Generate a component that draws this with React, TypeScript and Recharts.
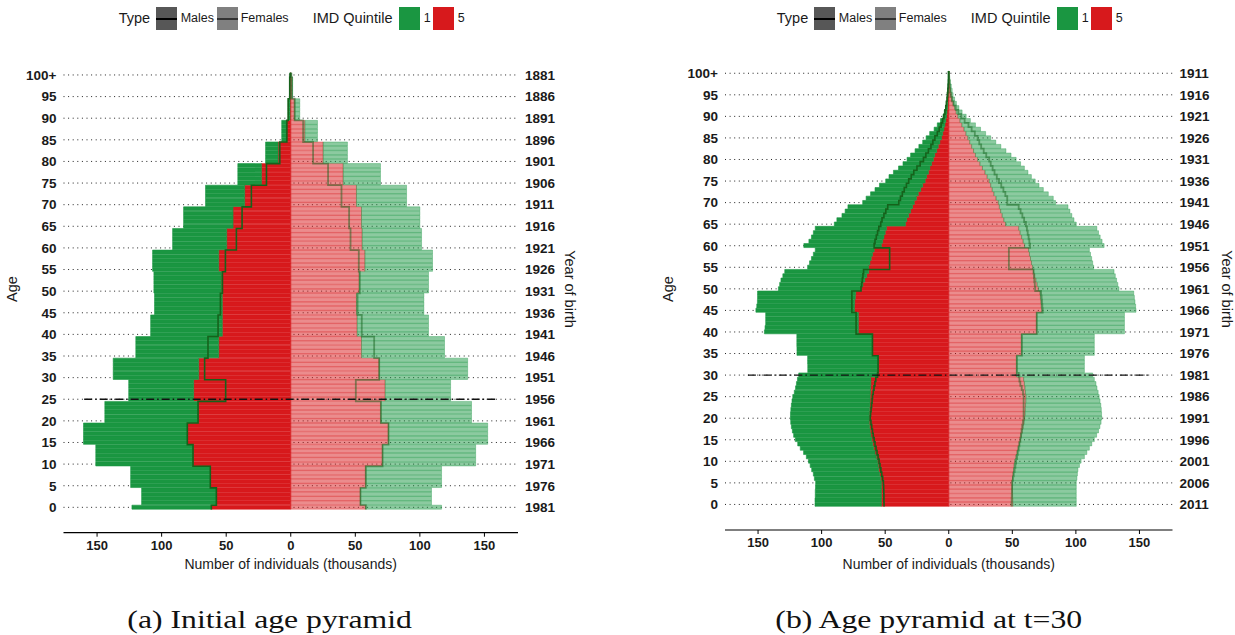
import React from "react";
import {
  ComposedChart,
  Bar,
  Line,
  XAxis,
  YAxis,
  CartesianGrid,
  ReferenceLine,
} from "recharts";

const GREEN = "#1a9641";
const RED = "#d7191c";
const STEP = "#16621b";
const FONT = '"Liberation Sans", Arial, Helvetica, sans-serif';

// one bar per single year of age
const ages = [
  0, 1, 2, 3, 4, 5, 6, 7, 8, 9, 10, 11, 12, 13, 14, 15, 16, 17, 18, 19, 20,
  21, 22, 23, 24, 25, 26, 27, 28, 29, 30, 31, 32, 33, 34, 35, 36, 37, 38, 39,
  40, 41, 42, 43, 44, 45, 46, 47, 48, 49, 50, 51, 52, 53, 54, 55, 56, 57, 58,
  59, 60, 61, 62, 63, 64, 65, 66, 67, 68, 69, 70, 71, 72, 73, 74, 75, 76, 77,
  78, 79, 80, 81, 82, 83, 84, 85, 86, 87, 88, 89, 90, 91, 92, 93, 94, 95, 96,
  97, 98, 99, 100,
];
const ageTicks = [0, 5, 10, 15, 20, 25, 30, 35, 40, 45, 50, 55, 60, 65, 70, 75, 80, 85, 90, 95, 100];
const ageTickLabels = ["0", "5", "10", "15", "20", "25", "30", "35", "40", "45", "50", "55", "60", "65", "70", "75", "80", "85", "90", "95", "100+"];
const birthYearsA = ["1981", "1976", "1971", "1966", "1961", "1956", "1951", "1946", "1941", "1936", "1931", "1926", "1921", "1916", "1911", "1906", "1901", "1896", "1891", "1886", "1881"];
const birthYearsB = ["2011", "2006", "2001", "1996", "1991", "1986", "1981", "1976", "1971", "1966", "1961", "1956", "1951", "1946", "1941", "1936", "1931", "1926", "1921", "1916", "1911"];
const xTicks = [-150, -100, -50, 0, 50, 100, 150];

// (a) initial population, thousands, index = age
const maleQ1A = [
  123, 115.5, 115.5, 115.5, 115.5,
  124, 124, 124, 124, 124,
  151, 151, 151, 151, 151,
  160.5, 160.5, 160.5, 160.5, 160.5,
  144, 144, 144, 144, 144,
  125.5, 125.5, 125.5, 125.5, 125.5,
  137.5, 137.5, 137.5, 137.5, 137.5,
  120, 120, 120, 120, 120,
  108.5, 108.5, 108.5, 108.5, 108.5,
  105.5, 105.5, 105.5, 105.5, 105.5,
  106, 106, 106, 106, 106,
  107, 107, 107, 107, 107,
  91.5, 91.5, 91.5, 91.5, 91.5,
  83, 83, 83, 83, 83,
  66, 66, 66, 66, 66,
  41, 41, 41, 41, 41,
  19.5, 19.5, 19.5, 19.5, 19.5,
  7, 7, 7, 7, 7,
  2, 2, 2, 2, 2,
  0.8, 0.8, 0.8, 0.8, 0.8,
  0.5,
];
const maleQ5A = [
  61.5, 57.6, 57.6, 57.6, 57.6,
  62.3, 62.3, 62.3, 62.3, 62.3,
  75.7, 75.7, 75.7, 75.7, 75.7,
  80, 80, 80, 80, 80,
  71.8, 71.8, 71.8, 71.8, 71.8,
  75.2, 75.2, 75.2, 75.2, 75.2,
  71.3, 71.3, 71.3, 71.3, 71.3,
  55.8, 55.8, 55.8, 55.8, 55.8,
  53, 53, 53, 53, 53,
  53, 53, 53, 53, 53,
  53.7, 53.7, 53.7, 53.7, 53.7,
  55.8, 55.8, 55.8, 55.8, 55.8,
  49.6, 49.6, 49.6, 49.6, 49.6,
  44.7, 44.7, 44.7, 44.7, 44.7,
  35.7, 35.7, 35.7, 35.7, 35.7,
  22.7, 22.7, 22.7, 22.7, 22.7,
  9.8, 9.8, 9.8, 9.8, 9.8,
  3.5, 3.5, 3.5, 3.5, 3.5,
  0.5, 0.5, 0.5, 0.5, 0.5,
  0.2, 0.2, 0.2, 0.2, 0.2,
  0.1,
];
const maleStepA = [
  61.5, 57.6, 57.6, 57.6, 57.6,
  62.3, 62.3, 62.3, 62.3, 62.3,
  75.7, 75.7, 75.7, 75.7, 75.7,
  80.1, 80.1, 80.1, 80.1, 80.1,
  71.8, 71.8, 71.8, 71.8, 71.8,
  50.4, 50.4, 50.4, 50.4, 50.4,
  66.7, 66.7, 66.7, 66.7, 66.7,
  64.1, 64.1, 64.1, 64.1, 64.1,
  56.3, 56.3, 56.3, 56.3, 56.3,
  54.5, 54.5, 54.5, 54.5, 54.5,
  52.9, 52.9, 52.9, 52.9, 52.9,
  50.6, 50.6, 50.6, 50.6, 50.6,
  42.1, 42.1, 42.1, 42.1, 42.1,
  37.7, 37.7, 37.7, 37.7, 37.7,
  30.5, 30.5, 30.5, 30.5, 30.5,
  18.8, 18.8, 18.8, 18.8, 18.8,
  8.5, 8.5, 8.5, 8.5, 8.5,
  3, 3, 3, 3, 3,
  2, 2, 2, 2, 2,
  0.8, 0.8, 0.8, 0.8, 0.8,
  0.5,
];
const femaleQ1A = [
  116.8, 109, 109, 109, 109,
  116.8, 116.8, 116.8, 116.8, 116.8,
  143.2, 143.2, 143.2, 143.2, 143.2,
  152.5, 152.5, 152.5, 152.5, 152.5,
  140, 140, 140, 140, 140,
  123.8, 123.8, 123.8, 123.8, 123.8,
  137, 137, 137, 137, 137,
  119.1, 119.1, 119.1, 119.1, 119.1,
  106.7, 106.7, 106.7, 106.7, 106.7,
  103.1, 103.1, 103.1, 103.1, 103.1,
  106.7, 106.7, 106.7, 106.7, 106.7,
  109.8, 109.8, 109.8, 109.8, 109.8,
  101.3, 101.3, 101.3, 101.3, 101.3,
  100, 100, 100, 100, 100,
  89.7, 89.7, 89.7, 89.7, 89.7,
  69.5, 69.5, 69.5, 69.5, 69.5,
  43.9, 43.9, 43.9, 43.9, 43.9,
  20.7, 20.7, 20.7, 20.7, 20.7,
  7, 7, 7, 7, 7,
  1.5, 1.5, 1.5, 1.5, 1.5,
  0.5,
];
const femaleQ5A = [
  58.1, 54, 54, 54, 54,
  58.1, 58.1, 58.1, 58.1, 58.1,
  71.1, 71.1, 71.1, 71.1, 71.1,
  75.7, 75.7, 75.7, 75.7, 75.7,
  69.8, 69.8, 69.8, 69.8, 69.8,
  73.1, 73.1, 73.1, 73.1, 73.1,
  68.5, 68.5, 68.5, 68.5, 68.5,
  54.8, 54.8, 54.8, 54.8, 54.8,
  51.4, 51.4, 51.4, 51.4, 51.4,
  50.9, 50.9, 50.9, 50.9, 50.9,
  53, 53, 53, 53, 53,
  57.4, 57.4, 57.4, 57.4, 57.4,
  55.3, 55.3, 55.3, 55.3, 55.3,
  54.8, 54.8, 54.8, 54.8, 54.8,
  50.9, 50.9, 50.9, 50.9, 50.9,
  40.6, 40.6, 40.6, 40.6, 40.6,
  25.1, 25.1, 25.1, 25.1, 25.1,
  10.9, 10.9, 10.9, 10.9, 10.9,
  3.1, 3.1, 3.1, 3.1, 3.1,
  0.8, 0.8, 0.8, 0.8, 0.8,
  0.2,
];
const femaleStepA = [
  58.1, 54, 54, 54, 54,
  58.1, 58.1, 58.1, 58.1, 58.1,
  71.1, 71.1, 71.1, 71.1, 71.1,
  75.7, 75.7, 75.7, 75.7, 75.7,
  69.8, 69.8, 69.8, 69.8, 69.8,
  50.4, 50.4, 50.4, 50.4, 50.4,
  68.5, 68.5, 68.5, 68.5, 68.5,
  64.6, 64.6, 64.6, 64.6, 64.6,
  55, 55, 55, 55, 55,
  51.7, 51.7, 51.7, 51.7, 51.7,
  53.5, 53.5, 53.5, 53.5, 53.5,
  52.7, 52.7, 52.7, 52.7, 52.7,
  46.3, 46.3, 46.3, 46.3, 46.3,
  45.2, 45.2, 45.2, 45.2, 45.2,
  39.3, 39.3, 39.3, 39.3, 39.3,
  28.9, 28.9, 28.9, 28.9, 28.9,
  17.3, 17.3, 17.3, 17.3, 17.3,
  9.6, 9.6, 9.6, 9.6, 9.6,
  3, 3, 3, 3, 3,
  1, 1, 1, 1, 1,
  0.5,
];

// (b) population at t=30, thousands, index = age
const maleQ1B = [
  105.2, 105.2, 105, 105, 104.8,
  104.7, 105.7, 106.5, 107.8, 109,
  110.3, 112, 114.2, 116.8, 118.8,
  120.7, 122, 123, 123.8, 124.3,
  124.5, 124.5, 124.2, 123.8, 123.3,
  122.7, 121.5, 120.5, 119.8, 119,
  118, 110.9, 110.9, 111, 111,
  119.4, 119.4, 119.5, 119.5, 119.5,
  145, 144.5, 144, 144, 144,
  151.7, 151, 150.5, 150.4, 150.4,
  134, 133, 132, 130.5, 129,
  111, 109.5, 108, 106.5, 105,
  114, 110, 108, 106.5, 105,
  90, 88, 84, 81.5, 79.3,
  67.7, 65, 61.5, 58, 54.5,
  49.6, 47, 43.5, 39.5, 36,
  32.8, 30, 26.5, 23.5, 20.5,
  17.8, 15, 11.5, 9, 6.5,
  4.5, 3.5, 2.6, 2, 1.5,
  1.1, 0.8, 0.6, 0.4, 0.3,
  0.3,
];
const maleQ5B = [
  53, 53, 53, 53, 53,
  53, 53.5, 54.3, 55, 55.5,
  56, 57, 58, 59, 59.8,
  60.5, 61.2, 61.8, 62.2, 62.5,
  62.5, 62.4, 62.2, 62, 61.9,
  61.8, 61.6, 61.5, 61.3, 61.2,
  56, 55.6, 55.6, 55.6, 55.6,
  60, 60, 60, 60, 60,
  71.1, 71.1, 71.1, 71.1, 71.1,
  74.2, 74.2, 74, 73.5, 73.2,
  69, 67.5, 66, 64.5, 63,
  63, 62, 61, 60, 58.7,
  53, 52, 51, 50, 49,
  34.1, 33, 31.5, 30, 28.5,
  27.1, 25.5, 24, 22, 20.5,
  18.6, 17.5, 16, 14.8, 13.5,
  12.1, 11, 9.5, 8.3, 7,
  5.7, 4.8, 3.8, 3, 2.3,
  1.8, 1.4, 1, 0.8, 0.6,
  0.4, 0.3, 0.2, 0.15, 0.1,
  0.1,
];
const maleStepB = [
  50.9, 51, 51, 51.1, 51.2,
  51.4, 52, 52.7, 53.4, 54.1,
  54.8, 55.6, 56.4, 57.2, 58,
  58.7, 59.4, 60, 60.6, 61.2,
  61.8, 61.5, 61.1, 60.7, 60.3,
  60, 59.4, 58.8, 58.1, 57.4,
  56, 55.6, 55.6, 55.6, 55.6,
  60, 60, 60, 60, 60,
  72.9, 72.9, 72.9, 72.9, 72.9,
  76.2, 76.2, 76.2, 76.2, 76.2,
  69, 68.5, 68, 67.5, 67,
  46.5, 46.5, 46.5, 46.5, 46.5,
  58.7, 58, 57, 56, 55,
  53.5, 52.5, 51, 49.5, 48,
  39.3, 38, 36.5, 35, 33.3,
  31.5, 29.5, 27.5, 25, 22.5,
  19.9, 18, 16, 14, 12.5,
  10.9, 9, 7.5, 6, 4.8,
  3.8, 3, 2.3, 1.8, 1.3,
  1, 0.7, 0.5, 0.3, 0.2,
  0.2,
];
const femaleQ1B = [
  100.3, 100.3, 100.3, 100.3, 100.3,
  100.3, 100.8, 101.2, 101.6, 102.8,
  104.1, 106.7, 108.6, 110.6, 112.5,
  114.5, 116.3, 117.8, 118.9, 119.8,
  120.4, 120.2, 120, 119.6, 119,
  118.3, 117.5, 116.6, 115.8, 114.5,
  113.2, 106.7, 106.7, 106.7, 106.7,
  114.5, 114.5, 114.5, 114.5, 114.5,
  138.2, 138.2, 138.2, 138.2, 138.2,
  147.3, 147, 146.5, 146, 145.5,
  133.9, 133, 132, 131, 130,
  114, 113.2, 112.4, 111.5, 110.6,
  122.2, 120.6, 119.1, 117.8, 116.5,
  100.3, 98.5, 96.8, 95.3, 93.8,
  84, 82.2, 78.3, 74.4, 71,
  68, 65, 62.3, 59.5, 56.5,
  53, 49, 45, 41, 37,
  33, 29, 25, 21, 17,
  13.7, 10.5, 8, 6, 4.6,
  3.4, 2.7, 2, 1.3, 0.8,
  0.4,
];
const femaleQ5B = [
  50.4, 50.3, 50.2, 50.1, 50,
  49.9, 50.2, 50.6, 51, 51.4,
  51.9, 52.8, 53.7, 54.6, 55.5,
  56.3, 57, 57.8, 58.5, 59.2,
  59.7, 60, 60.2, 60.4, 60.6,
  60.7, 60.3, 59.9, 59.5, 58.9,
  53.2, 53.2, 53.2, 53.2, 53.2,
  57.1, 57.1, 57.1, 57.1, 57.1,
  69.2, 69.2, 69.2, 69.2, 69.2,
  73.1, 72.8, 72.5, 72.1, 71.8,
  70.5, 69.5, 68.5, 67.6, 66.7,
  65.9, 65.1, 64.3, 63.5, 62.8,
  59.7, 58.5, 57.3, 56.1, 55,
  44.7, 43.3, 42, 40.8, 39.8,
  39, 37.2, 35.5, 34.2, 33,
  31.8, 30.2, 28.5, 26.5, 24.5,
  22.7, 21, 19.5, 18, 16.5,
  15, 13.5, 12, 10.3, 8.8,
  7.2, 5.8, 4.6, 3.5, 2.6,
  2, 1.4, 1, 0.7, 0.4,
  0.3,
];
const femaleStepB = [
  49.4, 49.5, 49.6, 49.7, 49.8,
  49.9, 50.5, 51.1, 51.8, 52.4,
  53, 53.7, 54.3, 55, 55.6,
  56.3, 56.8, 57.3, 57.8, 58.4,
  58.9, 58.9, 58.9, 58.9, 58.9,
  58.9, 58.4, 57.4, 56.3, 55.6,
  55, 53.7, 53.7, 53.7, 53.7,
  57.6, 57.6, 57.6, 57.6, 57.6,
  69.2, 69.2, 69.2, 69.2, 69.2,
  73.9, 73.6, 73.3, 73, 72.6,
  68, 67.7, 67.3, 67, 66.7,
  47.3, 47.3, 47.3, 47.3, 47.3,
  64, 63.4, 62.8, 62.1, 61.5,
  60.7, 59.3, 57.9, 56.5, 55,
  46, 46, 44.5, 43, 41.3,
  39.5, 37.8, 36, 34.5, 33,
  31.8, 29.5, 27.5, 25.5, 24,
  22.7, 20.5, 18, 15.5, 12.5,
  9.8, 7.5, 5.5, 3.8, 2.4,
  1.5, 1, 0.7, 0.5, 0.3,
  0.2,
];

function buildRows(mQ1: number[], mQ5: number[], mStep: number[], fQ1: number[], fQ5: number[], fStep: number[]) {
  return ages.map((age, i) => ({
    age,
    mRed: -mQ5[i],
    mGreen: -Math.max(mQ1[i] - mQ5[i], 0),
    fRed: fQ5[i],
    fGreen: Math.max(fQ1[i] - fQ5[i], 0),
    mStep: -mStep[i],
    fStep: fStep[i],
  }));
}

const rowsA = buildRows(maleQ1A, maleQ5A, maleStepA, femaleQ1A, femaleQ5A, femaleStepA);
const rowsB = buildRows(maleQ1B, maleQ5B, maleStepB, femaleQ1B, femaleQ5B, femaleStepB);

// step curve with vertical risers, for horizontal (layout="vertical") bars
function vStep(context: any) {
  let pts: number[][] = [];
  return {
    areaStart() {},
    areaEnd() {},
    lineStart() {
      pts = [];
    },
    point(x: number, y: number) {
      pts.push([x, y]);
    },
    lineEnd() {
      const n = pts.length;
      if (!n) return;
      const h0 = n > 1 ? (pts[1][1] - pts[0][1]) / 2 : 0;
      context.moveTo(pts[0][0], pts[0][1] - h0);
      for (let i = 1; i < n; i++) {
        const mid = (pts[i - 1][1] + pts[i][1]) / 2;
        context.lineTo(pts[i - 1][0], mid);
        context.lineTo(pts[i][0], mid);
      }
      const h1 = n > 1 ? (pts[n - 1][1] - pts[n - 2][1]) / 2 : 0;
      context.lineTo(pts[n - 1][0], pts[n - 1][1] + h1);
    },
  };
}

const H = 600;

function Pyramid(props: any) {
  const { rows, birthLabels, cohortAge, cohortHalf, width, leftW, rightW, top, bandBottom, axisY } = props;
  const xAxisH = 30;
  const tickStyle = { fontSize: 13.5, fontWeight: 700, fill: "#1a1a1a", fontFamily: FONT };
  return (
    <ComposedChart
      width={width}
      height={H}
      data={rows}
      layout="vertical"
      stackOffset="sign"
      barCategoryGap={0}
      barGap={0}
      margin={{ top, right: 0, bottom: H - axisY - xAxisH, left: 0 }}
    >
      <CartesianGrid
        vertical={false}
        horizontalValues={ageTicks}
        stroke="#222"
        strokeDasharray="1 3.6"
      />
      <XAxis
        type="number"
        domain={[-176, 176]}
        allowDataOverflow
        ticks={xTicks}
        tickFormatter={(v: number) => String(Math.abs(v))}
        height={xAxisH}
        tickSize={4}
        tickMargin={4}
        axisLine={{ stroke: "#000", strokeWidth: 1.2 }}
        tickLine={{ stroke: "#000" }}
        tick={{ fontSize: 13, fontWeight: 700, fill: "#1a1a1a", fontFamily: FONT }}
      />
      <YAxis
        type="category"
        dataKey="age"
        reversed
        ticks={ageTicks}
        interval={0}
        width={leftW}
        padding={{ top: 0, bottom: axisY - bandBottom }}
        axisLine={false}
        tickLine={false}
        tickSize={6}
        tickMargin={1}
        tickFormatter={(v: number) => ageTickLabels[ageTicks.indexOf(v)]}
        tick={tickStyle}
      />
      <YAxis
        yAxisId="right"
        orientation="right"
        type="category"
        dataKey="age"
        reversed
        ticks={ageTicks}
        interval={0}
        width={rightW}
        padding={{ top: 0, bottom: axisY - bandBottom }}
        axisLine={false}
        tickLine={false}
        tickSize={6}
        tickMargin={1}
        tickFormatter={(v: number) => birthLabels[ageTicks.indexOf(v)]}
        tick={tickStyle}
      />
      <Bar dataKey="mRed" stackId="a" fill={RED} stroke={RED} strokeWidth={0.6} isAnimationActive={false} />
      <Bar dataKey="mGreen" stackId="a" fill={GREEN} stroke={GREEN} strokeWidth={0.6} isAnimationActive={false} />
      <Bar dataKey="fRed" stackId="a" fill={RED} fillOpacity={0.5} stroke={RED} strokeOpacity={0.5} strokeWidth={0.7} isAnimationActive={false} />
      <Bar dataKey="fGreen" stackId="a" fill={GREEN} fillOpacity={0.5} stroke={GREEN} strokeOpacity={0.5} strokeWidth={0.7} isAnimationActive={false} />
      <Line dataKey="mStep" type={vStep as any} stroke={STEP} strokeWidth={1.6} dot={false} activeDot={false} isAnimationActive={false} />
      <Line dataKey="fStep" type={vStep as any} stroke={STEP} strokeOpacity={0.5} strokeWidth={1.8} dot={false} activeDot={false} isAnimationActive={false} />
      <ReferenceLine
        segment={[{ x: -cohortHalf, y: cohortAge }, { x: cohortHalf, y: cohortAge }]}
        stroke="#111"
        strokeWidth={1.4}
        strokeDasharray="8 3 1.5 3"
      />
    </ComposedChart>
  );
}

function LegendRow({ cx }: { cx: number }) {
  const abs = (left: number, extra: any) => ({ position: "absolute" as const, left: cx + left, ...extra });
  const label = (left: number, text: string, size: number) => (
    <div style={abs(left, { top: 8, height: 21, lineHeight: "21px", fontSize: size, color: "#1a1a1a", whiteSpace: "nowrap" })}>{text}</div>
  );
  const box = (left: number, bg: string, line?: string) => (
    <div style={abs(left, { top: 7, width: 21, height: 23, background: bg })}>
      {line ? <div style={{ position: "absolute", left: 0, right: 0, top: 10.5, height: 2, background: line }} /> : null}
    </div>
  );
  return (
    <>
      {label(-172, "Type", 14.5)}
      {box(-135, "#575757", "#000")}
      {label(-110, "Males", 12.5)}
      {box(-74, "#808080", "#333")}
      {label(-50, "Females", 12.5)}
      {label(22, "IMD Quintile", 14.5)}
      {box(108, GREEN)}
      {label(133, "1", 12.5)}
      {box(142, RED)}
      {label(167, "5", 12.5)}
    </>
  );
}

function Panel(props: any) {
  const { left, width, plotCx, captionCx, caption, ageX, yobX } = props;
  const t = (extra: any, text: string) => <div style={{ position: "absolute", whiteSpace: "nowrap", ...extra }}>{text}</div>;
  return (
    <div style={{ position: "absolute", left, top: 0, width, height: 635 }}>
      <div style={{ position: "absolute", left: 0, top: 0 }}>
        <Pyramid {...props} />
      </div>
      <LegendRow cx={plotCx - left} />
      {t({ left: ageX - left - 30, top: 280, width: 60, height: 18, lineHeight: "18px", textAlign: "center", fontSize: 14.5, color: "#1a1a1a", transform: "rotate(-90deg)" }, "Age")}
      {t({ left: yobX - left - 60, top: 280, width: 120, height: 18, lineHeight: "18px", textAlign: "center", fontSize: 14.5, color: "#1a1a1a", transform: "rotate(90deg)" }, "Year of birth")}
      {t({ left: plotCx - left - 200, top: 555, width: 400, height: 18, lineHeight: "18px", textAlign: "center", fontSize: 14, color: "#1a1a1a" }, "Number of individuals (thousands)")}
      <div style={{ position: "absolute", left: captionCx - left - 250, top: 604, width: 500, height: 32, textAlign: "center" }}>
        <span style={{ display: "inline-block", fontFamily: '"Liberation Serif", "Times New Roman", serif', fontSize: 26, lineHeight: "32px", color: "#111", transform: "scaleX(1.22)" }}>
          {caption}
        </span>
      </div>
    </div>
  );
}

export default function App() {
  return (
    <div style={{ position: "absolute", left: 0, top: 0, width: 1235, height: 635, background: "#fff", fontFamily: FONT, overflow: "hidden" }}>
      <Panel
        left={0}
        width={620}
        rows={rowsA}
        birthLabels={birthYearsA}
        cohortAge={25}
        cohortHalf={160}
        leftW={63.5}
        rightW={102}
        top={72.8}
        bandBottom={509.5}
        axisY={532.7}
        plotCx={290.7}
        captionCx={270}
        caption="(a) Initial age pyramid"
        ageX={11.5}
        yobX={569.5}
      />
      <Panel
        left={620}
        width={615}
        rows={rowsB}
        birthLabels={birthYearsB}
        cohortAge={30}
        cohortHalf={158}
        leftW={105}
        rightW={62.5}
        top={71.1}
        bandBottom={506.6}
        axisY={530}
        plotCx={948.8}
        captionCx={928.5}
        caption="(b) Age pyramid at t=30"
        ageX={668}
        yobX={1226.5}
      />
    </div>
  );
}
